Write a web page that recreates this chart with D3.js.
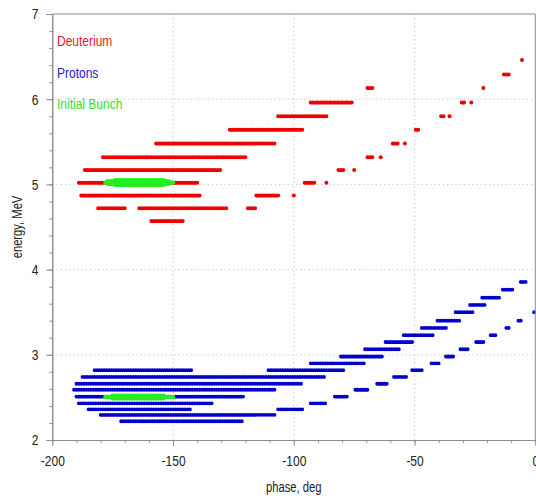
<!DOCTYPE html>
<html>
<head>
<meta charset="utf-8">
<script src="https://cdn.jsdelivr.net/npm/d3@7"></script>
<style>
    body { margin: 0; background: #fff; }
    svg text { font-family: "Liberation Sans", Arial, sans-serif; }
</style>
</head>
<body>
<svg id="viz"></svg>
<script>
// rows of particles: [energy MeV, phase from, phase to] (one particle per degree)
var deuterium = [
    [4.57, -159, -146],
    [4.72, -181, -169.5], [4.72, -164, -127], [4.72, -119, -116],
    [4.87, -188, -139], [4.87, -115.5, -106], [4.87, -100, -100],
    [5.02, -189, -139.5], [5.02, -95.5, -91], [5.02, -86.5, -86.5],
    [5.17, -186.5, -130.5], [5.17, -81.5, -79], [5.17, -75, -75],
    [5.32, -179, -119.5], [5.32, -69.5, -67.5], [5.32, -64, -64],
    [5.48, -157, -107], [5.48, -59, -56.5], [5.48, -54, -54],
    [5.64, -126.5, -96], [5.64, -49.5, -47.5],
    [5.80, -106.5, -86], [5.80, -39, -38], [5.80, -35.5, -35.5],
    [5.96, -93, -76], [5.96, -30.5, -29], [5.96, -26.5, -26.5],
    [6.13, -69.5, -67.5], [6.13, -21.5, -21.5],
    [6.29, -13, -10.5],
    [6.46, -5.5, -5.5]
];

var protons = [
    [2.22, -171.5, -120.5],
    [2.295, -180, -107],
    [2.36, -185, -142], [2.36, -106.5, -96],
    [2.43, -189, -133.5], [2.43, -93, -86],
    [2.51, -190, -120.5], [2.51, -83, -77.5],
    [2.59, -191, -108], [2.59, -74.5, -68.5],
    [2.66, -190, -97], [2.66, -65.5, -61],
    [2.74, -187.5, -87], [2.74, -58.5, -53.5],
    [2.82, -182.5, -142], [2.82, -110.5, -78.5], [2.82, -51, -47],
    [2.90, -93, -71], [2.90, -43, -40],
    [2.98, -80.5, -63.5], [2.98, -37, -33.5],
    [3.065, -70.5, -56], [3.065, -31, -27.5],
    [3.15, -62, -50], [3.15, -24.5, -21],
    [3.23, -54.5, -42], [3.23, -18.5, -16.5],
    [3.315, -47, -36], [3.315, -12, -10],
    [3.40, -40.5, -31], [3.40, -7, -5.5],
    [3.50, -33, -25], [3.50, -0.5, -0.5],
    [3.585, -27, -20],
    [3.67, -22, -14],
    [3.765, -13.5, -9],
    [3.855, -6, -4]
];

var initialBunch = [
    [4.995, -174, -154], [5.008, -177, -151], [5.022, -178, -150], [5.036, -177, -151], [5.05, -174, -154],
    [2.49, -175, -153], [2.505, -178, -150], [2.52, -175, -153]
];

var xTicks = [-200, -150, -100, -50, 0],
    yTicks = [2, 3, 4, 5, 6, 7],
    xMinor = d3.range(-200, 1, 10),
    yMinor = d3.range(2, 7.01, 0.2);

var legend = [
    {"name": "Deuterium", "color": "#e82020"},
    {"name": "Protons", "color": "#2323c8"},
    {"name": "Initial Bunch", "color": "#33dd33"}
];

var width = 536,
    height = 498,
    plot = {"left": 52.3, "right": 535.3, "top": 14, "bottom": 440},
    red = "#ee0000",
    blue = "#0000cc",
    green = "#22ee22",
    axis_color = "#8c8c8c",
    squeeze = 0.8;

var svg = d3.select("svg#viz")
    .attr("width", width)
    .attr("height", height);

var x = d3.scaleLinear().domain([-200, 0]).range([plot.left, plot.right]),
    y = d3.scaleLinear().domain([2, 7]).range([plot.bottom, plot.top]),
    step = x(1) - x(0);

// narrow type like the original (Arial Narrow)
function narrow(sel) {
    sel.each(function() {
        var len = this.getComputedTextLength();
        if (len > 0) {
            d3.select(this)
                .attr("textLength", len * squeeze)
                .attr("lengthAdjust", "spacingAndGlyphs");
        }
    });
}

// dotted grid
svg.append("g")
    .selectAll("line")
    .data(xTicks.slice(1, -1))
    .enter()
    .append("line")
        .attr("x1", function(d) { return x(d); })
        .attr("x2", function(d) { return x(d); })
        .attr("y1", plot.top)
        .attr("y2", plot.bottom)
        .attr("stroke", "#c4c4c4")
        .attr("stroke-dasharray", "1.2 3");

svg.append("g")
    .selectAll("line")
    .data(yTicks.slice(1, -1))
    .enter()
    .append("line")
        .attr("x1", plot.left)
        .attr("x2", plot.right)
        .attr("y1", function(d) { return y(d); })
        .attr("y2", function(d) { return y(d); })
        .attr("stroke", "#c4c4c4")
        .attr("stroke-dasharray", "1.2 3");

// particles, one dot per degree along each row
function drawRows(rows, color, w) {
    svg.append("g")
        .selectAll("path")
        .data(rows)
        .enter()
        .append("path")
            .attr("d", function(d) {
                return "M" + x(d[1]) + "," + y(d[0]) + "L" + x(d[2]) + "," + y(d[0]);
            })
            .attr("stroke", color)
            .attr("stroke-width", w)
            .attr("stroke-linecap", "round")
            .attr("stroke-dasharray", function(d) {
                return d[1] === d[2] ? null : "0 " + step;
            })
            .attr("fill", "none");
}

drawRows(deuterium, red, 4);
drawRows(protons, blue, 3.8);
drawRows(initialBunch, green, 4.5);

// axes
function styleAxis(g) {
    g.select(".domain").attr("stroke", axis_color);
    g.selectAll(".tick line").attr("stroke", axis_color);
    g.selectAll(".tick text")
        .attr("fill", "#222")
        .style("font-size", "15px")
        .style("font-family", "'Liberation Sans', Arial, sans-serif")
        .call(narrow);
}

svg.append("g")
    .attr("transform", "translate(0," + plot.bottom + ")")
    .call(d3.axisBottom(x).tickValues(xMinor).tickSize(3).tickFormat("").tickSizeOuter(0))
    .call(styleAxis);

svg.append("g")
    .attr("transform", "translate(0," + plot.bottom + ")")
    .call(d3.axisBottom(x).tickValues(xTicks).tickSize(6).tickPadding(9).tickSizeOuter(0)
        .tickFormat(function(d) { return d < 0 ? "-" + Math.abs(d) : d; }))
    .call(styleAxis);

svg.append("g")
    .attr("transform", "translate(" + plot.left + ",0)")
    .call(d3.axisLeft(y).tickValues(yMinor).tickSize(3).tickFormat("").tickSizeOuter(0))
    .call(styleAxis);

svg.append("g")
    .attr("transform", "translate(" + plot.left + ",0)")
    .call(d3.axisLeft(y).tickValues(yTicks).tickSize(6).tickPadding(8).tickSizeOuter(0).tickFormat(d3.format("d")))
    .call(styleAxis);

// frame top / right
svg.append("path")
    .attr("d", "M" + plot.left + "," + plot.top + "H" + plot.right + "V" + plot.bottom)
    .attr("stroke", axis_color)
    .attr("fill", "none");

// axis titles
svg.append("text")
    .attr("x", (plot.left + plot.right) / 2)
    .attr("y", 492)
    .attr("text-anchor", "middle")
    .style("font-size", "14px")
    .attr("fill", "#222")
    .text("phase, deg")
    .call(narrow);

svg.append("text")
    .attr("transform", "translate(22," + (plot.top + plot.bottom) / 2 + ") rotate(-90)")
    .attr("text-anchor", "middle")
    .style("font-size", "14px")
    .attr("fill", "#222")
    .text("energy, MeV")
    .call(narrow);

// legend
svg.append("g")
    .selectAll("text")
    .data(legend)
    .enter()
    .append("text")
        .attr("x", 57)
        .attr("y", function(d, i) { return 46 + i * 31.5; })
        .style("font-size", "15px")
        .attr("fill", function(d) { return d.color; })
        .text(function(d) { return d.name; })
        .call(narrow);
</script>
</body>
</html>
